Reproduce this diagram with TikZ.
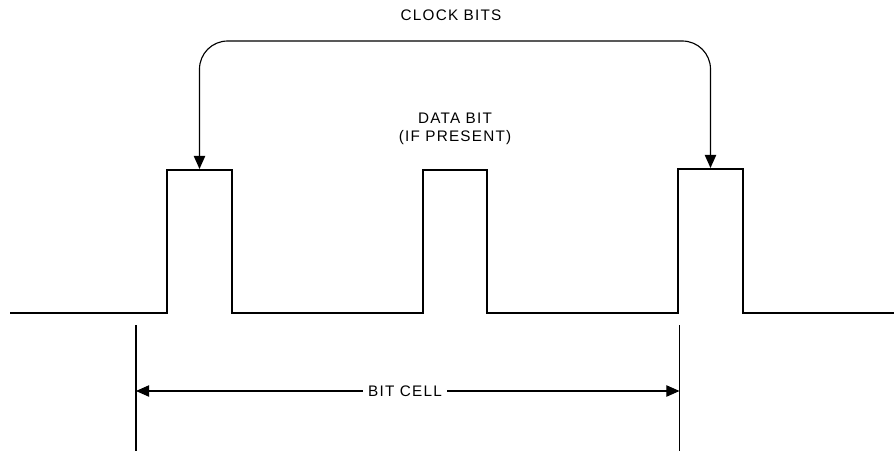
\documentclass[tikz,border=0pt]{standalone}
\usepackage{fontspec}
\setmainfont[LetterSpace=8]{Liberation Sans}
\usepackage{tikz}
\usetikzlibrary{arrows.meta}

\begin{document}
\begin{tikzpicture}[x=0.02cm,y=-0.02cm,
		wave/.style={line width=1.6pt,line join=miter},
		thin/.style={line width=0.65pt},
		lbl/.style={font=\fontsize{8.7}{10.2}\selectfont,inner sep=1pt,align=center},
		>={Triangle[length=7.5pt,width=6.5pt]}]
		\useasboundingbox (0,0) rectangle (894,451);

		% signal
		\draw[wave] (10,313) -- (167,313) -- (167,170) -- (232,170) -- (232,313)
			-- (423,313) -- (423,170) -- (487,170) -- (487,313)
			-- (678,313) -- (678,169) -- (743,169) -- (743,313) -- (894,313);

		\coordinate (clk1) at (199.5,169);
		\coordinate (clk2) at (710.5,168);
		\coordinate (arcL) at (199.5,41);
		\coordinate (arcR) at (710.5,41);

		\node[lbl] (clockbits) at (451,15) {CLOCK BITS};
		\node[lbl] (databit) at (455,129) {DATA BIT\\(IF PRESENT)};

		\draw[thin,<->,rounded corners=16pt] (clk1) -- (arcL) -- (arcR) -- (clk2);

		% bit cell
		\coordinate (cellTL) at (136,325);
		\coordinate (cellBL) at (136,451);
		\coordinate (cellTR) at (679.5,325);
		\coordinate (cellBR) at (679.5,451);
		\coordinate (cellL) at (136,391);
		\coordinate (cellR) at (679.5,391);
		\draw[thin] (cellTL) -- (cellBL);
		\draw[thin] (cellTR) -- (cellBR);

		\node[lbl,inner sep=3pt] (bitcell) at (405,391) {BIT CELL};
		\draw[thin,->] (bitcell) -- (cellL);
		\draw[thin,->] (bitcell) -- (cellR);
\end{tikzpicture}
\end{document}
